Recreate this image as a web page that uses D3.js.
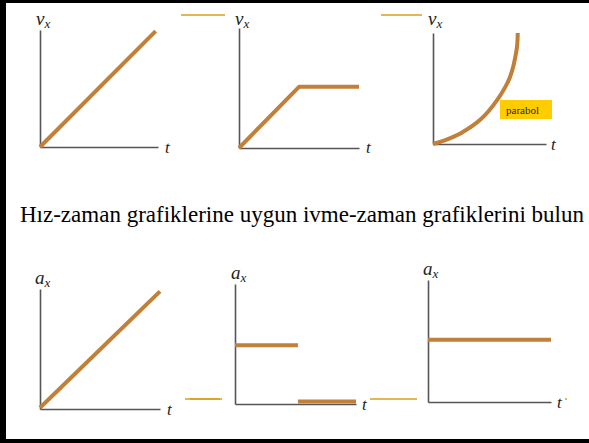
<!DOCTYPE html>
<html><head><meta charset="utf-8">
<script src="https://cdn.jsdelivr.net/npm/d3@7"></script>
<style>html,body{margin:0;padding:0;background:#fff;overflow:hidden}</style>
</head><body>
<script>
// ---- data ----
const title = "Hız-zaman grafiklerine uygun ivme-zaman grafiklerini bulun";
const curveNote = "parabol";
// top row: velocity-time
const v1_t = [0, 0.98];
const v1_v = [0, 0.99];
const v2_t = [0, 0.5, 1.0];
const v2_v = [0, 0.51, 0.51];
const v3_t = [0, 0.12, 0.25, 0.42, 0.57, 0.68, 0.74, 0.75];
const v3_v = [0, 0.04, 0.10, 0.22, 0.40, 0.60, 0.85, 1.0];
// bottom row: acceleration-time
const a1_t = [0, 1.0];
const a1_a = [0.01, 0.98];
const a2a_t = [0, 0.52];
const a2a_a = [0.49, 0.49];
const a2b_t = [0.52, 1.0];
const a2b_a = [0.02, 0.02];
const a3_t = [0, 1.0];
const a3_a = [0.51, 0.51];

const W = 589, H = 443;
const SERIF = '"Liberation Serif"';
const svg = d3.select("body").append("svg").attr("width", W).attr("height", H);
svg.append("rect").attr("width", W).attr("height", H).attr("fill", "#fff");

// frame
svg.append("rect").attr("x", 0).attr("y", 0).attr("width", 6).attr("height", H).attr("fill", "#000");
svg.append("rect").attr("x", 0).attr("y", 0).attr("width", W).attr("height", 3).attr("fill", "#000");
svg.append("rect").attr("x", 0).attr("y", 439).attr("width", W).attr("height", 4).attr("fill", "#000");

const LINE = "#c27f38", AXIS = "#555", GOLD = "#d4a017";

// gold decorative rules
const rules = [[181,225,15],[381,422,15],[185,220,399],[190,222,399],[370,417,399],[565,567,399]];
svg.selectAll("line.rule").data(rules).join("line")
  .attr("x1", d=>d[0]).attr("x2", d=>d[1]).attr("y1", d=>d[2]).attr("y2", d=>d[2])
  .attr("stroke", GOLD).attr("stroke-width", 1.5);

const panels = [
  {x0:40, x1:158, y0:147, y1:30, lab:"v", labX:36, labY:25, tX:165, tY:153, series:[[v1_t, v1_v]]},
  {x0:239, x1:359, y0:148, y1:28, lab:"v", labX:235, labY:25, tX:366, tY:153, series:[[v2_t, v2_v]]},
  {x0:433, x1:546, y0:144, y1:33, lab:"v", labX:428, labY:25, tX:551, tY:150, series:[[v3_t, v3_v]], curved:true},
  {x0:40, x1:160, y0:409, y1:289, lab:"a", labX:35, labY:284, tX:167, tY:415, series:[[a1_t, a1_a]]},
  {x0:235, x1:356, y0:404, y1:284, lab:"a", labX:231, labY:279, tX:362, tY:410, series:[[a2a_t, a2a_a],[a2b_t, a2b_a]]},
  {x0:428, x1:551, y0:402, y1:280, lab:"a", labX:423, labY:275, tX:557, tY:408, series:[[a3_t, a3_a]]}
];

panels.forEach(p => {
  const xs = d3.scaleLinear().domain([0,1]).range([p.x0, p.x1]);
  const ys = d3.scaleLinear().domain([0,1]).range([p.y0, p.y1]);
  const g = svg.append("g");
  const ax = g.append("g").attr("transform", `translate(0,${p.y0})`)
    .call(d3.axisBottom(xs).tickValues([]).tickSizeOuter(0));
  const ay = g.append("g").attr("transform", `translate(${p.x0},0)`)
    .call(d3.axisLeft(ys).tickValues([]).tickSizeOuter(0));
  [ax, ay].forEach(a => a.select(".domain").attr("stroke", AXIS).attr("stroke-width", 1.6));
  const line = d3.line().x(d=>xs(d[0])).y(d=>ys(d[1]))
    .curve(p.curved ? d3.curveCatmullRom.alpha(0.5) : d3.curveLinear);
  p.series.forEach(s => {
    const pts = s[0].map((t,i)=>[t, s[1][i]]);
    g.append("path").attr("d", line(pts)).attr("fill","none")
      .attr("stroke", LINE).attr("stroke-width", 4).attr("stroke-linejoin","round");
  });
  const lt = svg.append("text").attr("x", p.labX).attr("y", p.labY)
    .style("font-family", SERIF).style("font-style","italic").attr("font-size", 19).attr("fill","#222");
  lt.append("tspan").text(p.lab);
  lt.append("tspan").attr("dy", 3).attr("font-size", 13).text("x");
  svg.append("text").attr("x", p.tX).attr("y", p.tY)
    .style("font-family", SERIF).style("font-style","italic").attr("font-size", 17).attr("fill","#222").text("t");
});

// parabola note
svg.append("rect").attr("x", 500).attr("y", 100).attr("width", 52).attr("height", 19).attr("fill", "#ffcc00");
svg.append("text").attr("x", 506).attr("y", 114).style("font-family", SERIF).attr("font-size", 11)
  .attr("fill", "#222").text(curveNote);

// question text
svg.append("text").attr("x", 20).attr("y", 222).style("font-family", SERIF)
  .attr("font-size", 23).attr("fill", "#000").text(title);
</script>
</body></html>
